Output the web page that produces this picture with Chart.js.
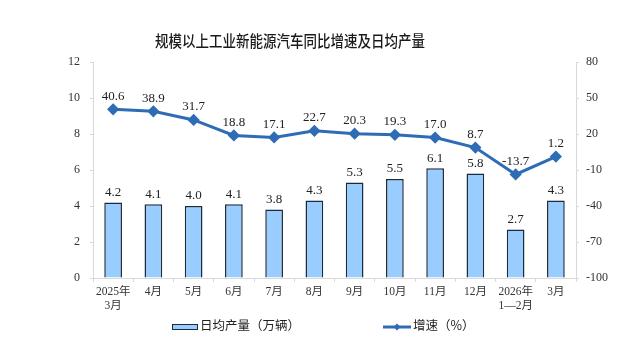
<!DOCTYPE html>
<html>
<head>
<meta charset="utf-8">
<script src="https://cdn.jsdelivr.net/npm/chart.js@4"></script>
<style>
  body { margin: 0; background: #fff; }
  #wrap { position: relative; width: 621px; height: 362px; }
  #title { position: absolute; left: 0; width: 580px; top: 30px; text-align: center;
    font: 500 13.5px 'Noto Sans CJK SC', sans-serif; color: #1a1a1a; transform: scaleY(1.15); }
  .leg { position: absolute; top: 317px; font: 12.5px 'Noto Sans CJK SC', serif; color: #222; line-height: 16px; }
  .sw-bar { display: inline-block; width: 24px; height: 4px; background: #99ccff; border: 1px solid #1c2b3a; vertical-align: middle; margin-right: 2px; }
</style>
</head>
<body>
<div id="wrap">
  <canvas id="chart" width="621" height="362"></canvas>
  <div id="title">规模以上工业新能源汽车同比增速及日均产量</div>
  <div class="leg" style="left:172px"><span class="sw-bar"></span>日均产量（万辆）</div>
  <div class="leg" style="left:383px"><svg width="28" height="10" style="vertical-align:middle;margin-right:2px"><line x1="0" y1="5" x2="28" y2="5" stroke="#2e6db5" stroke-width="3"/><polygon points="14,1.5 17.5,5 14,8.5 10.5,5" fill="#2e6db5"/></svg>增速（%）</div>
</div>
<script>
const categories = [['2025年', '3月'], '4月', '5月', '6月', '7月', '8月', '9月', '10月', '11月', '12月', ['2026年', '1—2月'], '3月'];
const dailyOutput = [4.2, 4.1, 4.0, 4.1, 3.8, 4.3, 5.3, 5.5, 6.1, 5.8, 2.7, 4.3];
const growthRate = [40.6, 38.9, 31.7, 18.8, 17.1, 22.7, 20.3, 19.3, 17.0, 8.7, -13.7, 1.2];
const leftTicks = [0, 12, 2];
const rightTicks = [-100, 80, 30];

const serif = "'Liberation Serif', 'Noto Sans CJK SC', serif";

// draw the value labels above bars and points
const valueLabels = {
    id: 'valueLabels',
    afterDatasetsDraw(chart) {
        const ctx = chart.ctx;
        ctx.save();
        ctx.font = '13px ' + serif;
        ctx.fillStyle = '#222';
        ctx.textAlign = 'center';
        ctx.textBaseline = 'middle';
        chart.data.datasets.forEach((ds, i) => {
            const meta = chart.getDatasetMeta(i);
            meta.data.forEach((el, j) => {
                const y = ds.type === 'bar' ? el.y - 10 : el.y - 13;
                ctx.fillText(ds.data[j].toFixed(1), el.x, y);
            });
        });
        ctx.restore();
    }
};

new Chart(document.getElementById('chart'), {
    data: {
        labels: categories,
        datasets: [{
            type: 'line',
            label: '增速（%）',
            data: growthRate,
            yAxisID: 'y1',
            borderColor: '#2e6db5',
            backgroundColor: '#2e6db5',
            borderWidth: 3,
            pointStyle: 'rectRot',
            pointRadius: 4,
            tension: 0
        }, {
            type: 'bar',
            label: '日均产量（万辆）',
            data: dailyOutput,
            yAxisID: 'y',
            backgroundColor: '#99ccff',
            borderColor: '#1c2b3a',
            borderWidth: 1.5,
            barPercentage: 0.44,
            categoryPercentage: 1
        }]
    },
    options: {
        responsive: false,
        animation: false,
        layout: { padding: { top: 62, bottom: 0, left: 0, right: 0 } },
        plugins: { legend: { display: false }, tooltip: { enabled: false } },
        scales: {
            x: {
                grid: { display: true, offset: true, drawOnChartArea: false, tickLength: 4, color: '#d9d9d9' },
                border: { color: '#d9d9d9' },
                ticks: { color: '#333', font: { family: serif, size: 11.5 }, maxRotation: 0, autoSkip: false, padding: 3 },
                afterFit(s) { s.height = 84; }
            },
            y: {
                position: 'left',
                min: leftTicks[0], max: leftTicks[1],
                ticks: { stepSize: leftTicks[2], color: '#333', font: { family: serif, size: 12 }, padding: 10 },
                grid: { drawOnChartArea: false, tickLength: 3, color: '#d9d9d9' },
                border: { color: '#d9d9d9' },
                afterFit(s) { s.width = 93; }
            },
            y1: {
                position: 'right',
                min: rightTicks[0], max: rightTicks[1],
                ticks: { stepSize: rightTicks[2], color: '#333', font: { family: serif, size: 12 }, padding: 7 },
                grid: { drawOnChartArea: false, tickLength: 3, color: '#d9d9d9' },
                border: { color: '#d9d9d9' },
                afterFit(s) { s.width = 45; }
            }
        }
    },
    plugins: [valueLabels]
});
</script>
</body>
</html>
